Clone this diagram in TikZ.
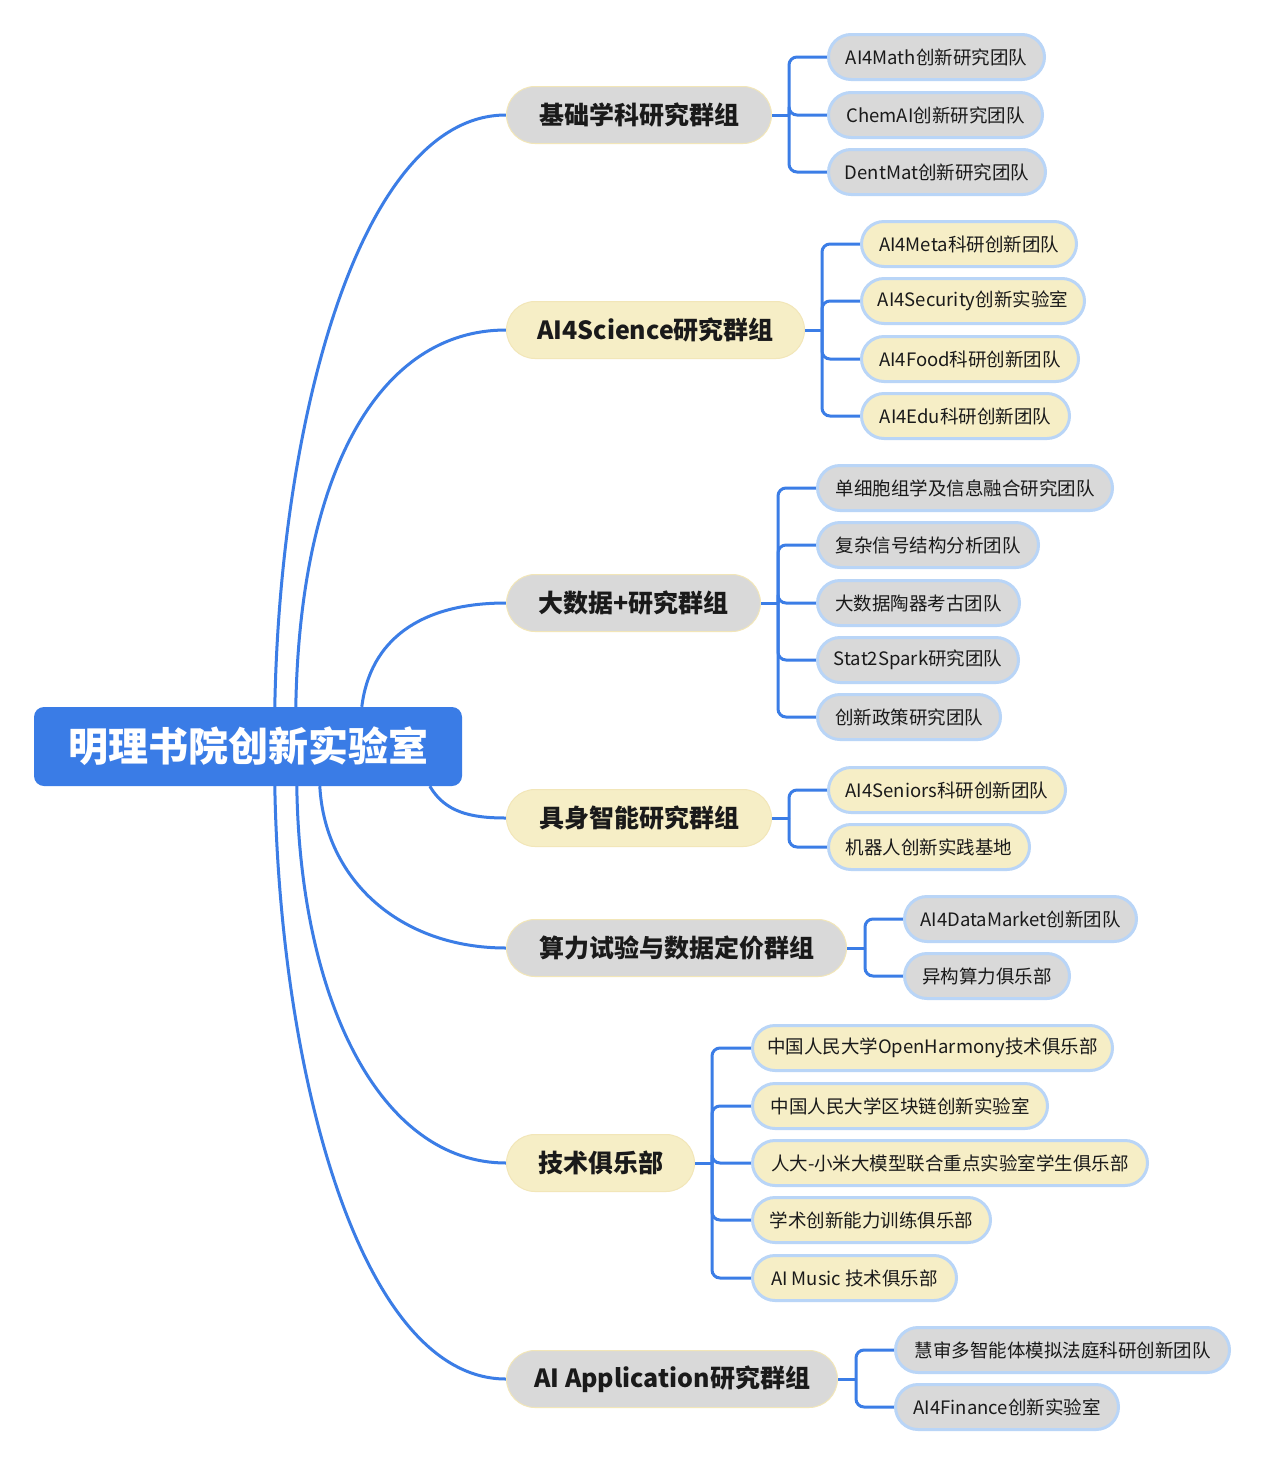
\documentclass[tikz,border=0pt]{standalone}
\usepackage{fontspec}
\setmainfont{Noto Sans CJK SC}
\usetikzlibrary{calc,backgrounds}
\definecolor{conncol}{HTML}{3B7DE6}
\definecolor{rootcol}{HTML}{3A7CE6}
\definecolor{greyfill}{HTML}{D9D9D9}
\definecolor{yelfill}{HTML}{F6EEC6}
\definecolor{leafborder}{HTML}{B9D5F7}
\definecolor{grpborder}{HTML}{F2E6B8}
\definecolor{txtcol}{HTML}{1A1A1A}
\newcommand\leafnode[6]{\node[leaf, fill=#5, minimum width={#3-#2-3}] (#1) at ({(#2+#3)/2},#4) {#6};}
\newcommand\grpnode[5]{\node[grp, fill=#4, minimum width={#2-506-1}] (#1) at ({(506+#2)/2},#3) {#5};}
\begin{document}
\begin{tikzpicture}[x=1pt,y=-1pt,
  conn/.style={draw=conncol, line width=3pt},
  leaf/.style={draw=leafborder, line width=3pt, rounded corners=22.5pt, minimum height=45pt, inner xsep=0pt, inner ysep=0pt, text=txtcol, font=\fontsize{18.5}{22}\selectfont},
  grp/.style={draw=grpborder, line width=1pt, rounded corners=28.5pt, minimum height=57pt, inner xsep=0pt, inner ysep=0pt, text=txtcol, font=\fontsize{25}{28}\selectfont\bfseries},
  rootbox/.style={fill=rootcol, rounded corners=10pt, minimum width=428pt, minimum height=79pt, inner sep=0pt, text=white, font=\fontsize{40}{44}\selectfont\bfseries}
]
\useasboundingbox (0,0) rectangle (1264,1465);

% root
\node[rootbox] (root) at (248,746.5) {明理书院创新实验室};

% groups
\grpnode{g1}{772}{115}{greyfill}{基础学科研究群组}
\grpnode{g2}{805}{330}{yelfill}{AI4Science研究群组}
\grpnode{g3}{761}{603}{greyfill}{大数据+研究群组}
\grpnode{g4}{772}{818}{yelfill}{具身智能研究群组}
\grpnode{g5}{847}{948}{greyfill}{算力试验与数据定价群组}
\grpnode{g6}{695}{1163}{yelfill}{技术俱乐部}
\grpnode{g7}{838}{1379}{greyfill}{AI Application研究群组}

\coordinate (r1) at ($(root.north west)+(241,0)$);
\coordinate (r2) at ($(root.north west)+(262,0)$);
\coordinate (r3) at ($(root.north west)+(328,0)$);
\coordinate (r4) at ($(root.south west)+(396,0)$);
\coordinate (r5) at ($(root.south west)+(286,0)$);
\coordinate (r6) at ($(root.south west)+(263,0)$);
\coordinate (r7) at ($(root.south west)+(241,0)$);

% leaves
\leafnode{l11}{827}{1046}{57}{greyfill}{AI4Math创新研究团队}
\leafnode{l12}{827}{1044}{115}{greyfill}{ChemAI创新研究团队}
\leafnode{l13}{827}{1047}{172}{greyfill}{DentMat创新研究团队}
\leafnode{l21}{860}{1078}{244}{yelfill}{AI4Meta科研创新团队}
\leafnode{l22}{860}{1086}{301}{yelfill}{AI4Security创新实验室}
\leafnode{l23}{860}{1080}{359}{yelfill}{AI4Food科研创新团队}
\leafnode{l24}{860}{1071}{416}{yelfill}{AI4Edu科研创新团队}
\leafnode{l31}{816}{1114}{488}{greyfill}{单细胞组学及信息融合研究团队}
\leafnode{l32}{816}{1040}{545}{greyfill}{复杂信号结构分析团队}
\leafnode{l33}{816}{1021}{603}{greyfill}{大数据陶器考古团队}
\leafnode{l34}{816}{1020}{660}{greyfill}{Stat2Spark研究团队}
\leafnode{l35}{816}{1002}{717}{greyfill}{创新政策研究团队}
\leafnode{l41}{827}{1067}{790}{yelfill}{AI4Seniors科研创新团队}
\leafnode{l42}{827}{1031}{847}{yelfill}{机器人创新实践基地}
\leafnode{l51}{903}{1138}{919}{greyfill}{AI4DataMarket创新团队}
\leafnode{l52}{903}{1071}{976}{greyfill}{异构算力俱乐部}
\leafnode{l61}{751}{1114}{1048}{yelfill}{中国人民大学OpenHarmony技术俱乐部}
\leafnode{l62}{751}{1049}{1106}{yelfill}{中国人民大学区块链创新实验室}
\leafnode{l63}{751}{1149}{1163}{yelfill}{人大-小米大模型联合重点实验室学生俱乐部}
\leafnode{l64}{751}{992}{1220}{yelfill}{学术创新能力训练俱乐部}
\leafnode{l65}{751}{958}{1278}{yelfill}{AI Music 技术俱乐部}
\leafnode{l71}{894}{1231}{1350}{greyfill}{慧审多智能体模拟法庭科研创新团队}
\leafnode{l72}{894}{1120}{1407}{greyfill}{AI4Finance创新实验室}

% bracket points
\coordinate (b1) at (789,115);
\coordinate (b2) at (822,330);
\coordinate (b3) at (778,603);
\coordinate (b4) at (789,818);
\coordinate (b5) at (865,948);
\coordinate (b6) at (712,1163);
\coordinate (b7) at (856,1379);

\begin{scope}[on background layer]
\fill[white] (0,0) rectangle (1264,1465);
\draw[conn] (r1) .. controls (280,420) and (360,115) .. (g1.west);
\draw[conn] (r2) .. controls (300,470) and (380,330) .. (g2.west);
\draw[conn] (r3) .. controls (370,640) and (420,603) .. (g3.west);
\draw[conn] (r4) .. controls (445,812) and (470,818) .. (g4.west);
\draw[conn] (r5) .. controls (325,880) and (400,948) .. (g5.west);
\draw[conn] (r6) .. controls (300,1000) and (380,1163) .. (g6.west);
\draw[conn] (r7) .. controls (280,1073) and (360,1379) .. (g7.west);
\foreach \g/\b/\ls in {g1/b1/{l11,l12,l13}, g2/b2/{l21,l22,l23,l24}, g3/b3/{l31,l32,l33,l34,l35}, g4/b4/{l41,l42}, g5/b5/{l51,l52}, g6/b6/{l61,l62,l63,l64,l65}, g7/b7/{l71,l72}}{
  \draw[conn] (\g.east) -- (\b);
  \foreach \l in \ls { \draw[conn, rounded corners=8pt] (\b) |- (\l.west); }
}
\end{scope}
\end{tikzpicture}
\end{document}
